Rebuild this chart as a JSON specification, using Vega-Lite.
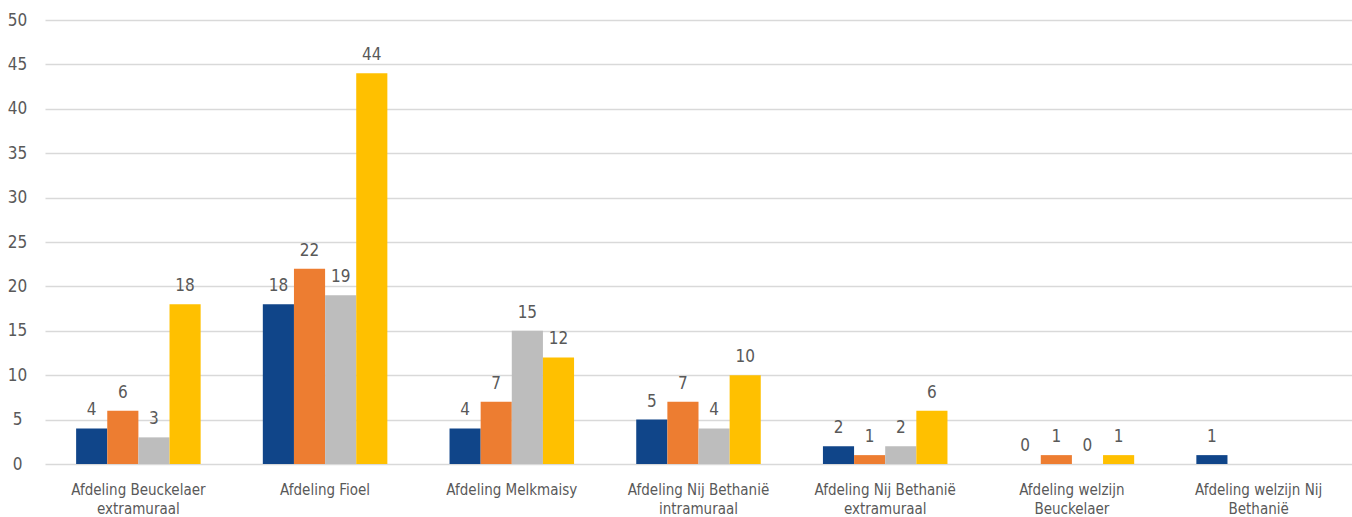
{
  "$schema": "https://vega.github.io/schema/vega-lite/v6.json",
  "width": 1307,
  "height": 444,
  "autosize": "none",
  "padding": {"left": 45, "top": 20, "right": 0, "bottom": 53},
  "background": "#ffffff",
  "config": {
    "view": {"stroke": null},
    "font": "'DejaVu Sans Condensed', Roboto, sans-serif",
    "text": {"font": "'DejaVu Sans Condensed', Roboto, sans-serif"}
  },
  "data": {
    "values": [
      {"cat": "Afdeling Beuckelaer extramuraal", "s": "Reeks 1", "v": 4},
      {"cat": "Afdeling Beuckelaer extramuraal", "s": "Reeks 2", "v": 6},
      {"cat": "Afdeling Beuckelaer extramuraal", "s": "Reeks 3", "v": 3},
      {"cat": "Afdeling Beuckelaer extramuraal", "s": "Reeks 4", "v": 18},
      {"cat": "Afdeling Fioel", "s": "Reeks 1", "v": 18},
      {"cat": "Afdeling Fioel", "s": "Reeks 2", "v": 22},
      {"cat": "Afdeling Fioel", "s": "Reeks 3", "v": 19},
      {"cat": "Afdeling Fioel", "s": "Reeks 4", "v": 44},
      {"cat": "Afdeling Melkmaisy", "s": "Reeks 1", "v": 4},
      {"cat": "Afdeling Melkmaisy", "s": "Reeks 2", "v": 7},
      {"cat": "Afdeling Melkmaisy", "s": "Reeks 3", "v": 15},
      {"cat": "Afdeling Melkmaisy", "s": "Reeks 4", "v": 12},
      {"cat": "Afdeling Nij Bethanië intramuraal", "s": "Reeks 1", "v": 5},
      {"cat": "Afdeling Nij Bethanië intramuraal", "s": "Reeks 2", "v": 7},
      {"cat": "Afdeling Nij Bethanië intramuraal", "s": "Reeks 3", "v": 4},
      {"cat": "Afdeling Nij Bethanië intramuraal", "s": "Reeks 4", "v": 10},
      {"cat": "Afdeling Nij Bethanië extramuraal", "s": "Reeks 1", "v": 2},
      {"cat": "Afdeling Nij Bethanië extramuraal", "s": "Reeks 2", "v": 1},
      {"cat": "Afdeling Nij Bethanië extramuraal", "s": "Reeks 3", "v": 2},
      {"cat": "Afdeling Nij Bethanië extramuraal", "s": "Reeks 4", "v": 6},
      {"cat": "Afdeling welzijn Beuckelaer", "s": "Reeks 1", "v": 0},
      {"cat": "Afdeling welzijn Beuckelaer", "s": "Reeks 2", "v": 1},
      {"cat": "Afdeling welzijn Beuckelaer", "s": "Reeks 3", "v": 0},
      {"cat": "Afdeling welzijn Beuckelaer", "s": "Reeks 4", "v": 1},
      {"cat": "Afdeling welzijn Nij Bethanië", "s": "Reeks 1", "v": 1}
    ]
  },
  "encoding": {
    "x": {
      "field": "cat",
      "type": "nominal",
      "sort": null,
      "scale": {"paddingInner": 0.333, "paddingOuter": 0.1667},
      "axis": {
        "title": null,
        "labelAngle": 0,
        "domain": false,
        "ticks": false,
        "labelPadding": 18,
        "labelFontSize": 15,
        "labelColor": "#595959",
        "labelLineHeight": 19,
        "labelBaseline": "top",
        "labelExpr": "datum.label == 'Afdeling Beuckelaer extramuraal' ? ['Afdeling Beuckelaer', 'extramuraal'] : datum.label == 'Afdeling Nij Bethanië intramuraal' ? ['Afdeling Nij Bethanië', 'intramuraal'] : datum.label == 'Afdeling Nij Bethanië extramuraal' ? ['Afdeling Nij Bethanië', 'extramuraal'] : datum.label == 'Afdeling welzijn Beuckelaer' ? ['Afdeling welzijn', 'Beuckelaer'] : datum.label == 'Afdeling welzijn Nij Bethanië' ? ['Afdeling welzijn Nij', 'Bethanië'] : datum.label"
      }
    },
    "xOffset": {
      "field": "s",
      "type": "nominal",
      "scale": {"paddingInner": 0, "paddingOuter": 0}
    },
    "y": {
      "field": "v",
      "type": "quantitative",
      "scale": {"domain": [0, 50], "nice": false},
      "axis": {
        "title": null,
        "values": [0, 5, 10, 15, 20, 25, 30, 35, 40, 45, 50],
        "domain": false,
        "ticks": false,
        "labelAlign": "center",
        "labelPadding": 28,
        "labelFontSize": 17,
        "labelColor": "#595959",
        "gridColor": "#D9D9D9",
        "gridWidth": 1.3
      }
    }
  },
  "layer": [
    {
      "mark": {"type": "bar"},
      "encoding": {
        "color": {
          "field": "s",
          "type": "nominal",
          "scale": {"domain": ["Reeks 1", "Reeks 2", "Reeks 3", "Reeks 4"], "range": ["#104589", "#ED7D31", "#BDBDBD", "#FFC000"]},
          "legend": null
        }
      }
    },
    {
      "mark": {"type": "text", "baseline": "bottom", "dy": -9, "fontSize": 17, "color": "#595959"},
      "encoding": {"text": {"field": "v", "type": "quantitative"}}
    }
  ]
}
